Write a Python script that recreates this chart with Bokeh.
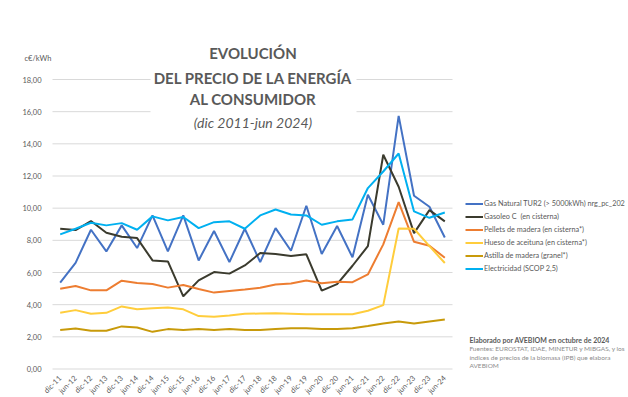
import math
from bokeh.plotting import figure
from bokeh.models import (FixedTicker, CustomJSTickFormatter, Label, Range1d, LinearAxis,
                          Legend, LegendItem)
from bokeh.embed import file_html
from bokeh.resources import INLINE

cats = ["dic-11", "jun-12", "dic-12", "jun-13", "dic-13", "jun-14", "dic-14", "jun-15",
        "dic-15", "jun-16", "dic-16", "jun-17", "dic-17", "jun-18", "dic-18", "jun-19",
        "dic-19", "jun-20", "dic-20", "jun-21", "dic-21", "jun-22", "dic-22", "jun-23",
        "dic-23", "jun-24"]

gas_natural = [5.37, 6.60, 8.66, 7.31, 8.93, 7.52, 9.55, 7.31, 9.55, 6.75, 8.58, 6.65, 8.72,
               6.65, 8.76, 7.35, 10.15, 7.15, 8.89, 6.94, 10.83, 8.97, 15.74, 10.77, 10.09, 8.18]
gasoleo_c = [8.72, 8.64, 9.20, 8.47, 8.22, 8.14, 6.75, 6.69, 4.52, 5.51, 6.03, 5.93, 6.44,
             7.21, 7.15, 7.02, 7.13, 4.87, 5.28, 6.42, 7.64, 13.32, 11.33, 8.45, 9.88, 9.18]
pellets = [4.99, 5.16, 4.89, 4.89, 5.49, 5.35, 5.28, 5.06, 5.22, 4.97, 4.75, 4.85, 4.94,
           5.05, 5.25, 5.32, 5.50, 5.33, 5.42, 5.40, 5.88, 7.75, 10.38, 7.91, 7.66, 6.92]
hueso = [3.50, 3.66, 3.44, 3.49, 3.89, 3.72, 3.78, 3.83, 3.71, 3.29, 3.25, 3.33, 3.43,
         3.45, 3.46, 3.44, 3.41, 3.41, 3.41, 3.41, 3.62, 3.97, 8.74, 8.72, 7.64, 6.59]
astilla = [2.42, 2.52, 2.38, 2.38, 2.65, 2.58, 2.31, 2.48, 2.42, 2.48, 2.42, 2.48, 2.43,
           2.42, 2.48, 2.54, 2.54, 2.48, 2.48, 2.54, 2.67, 2.83, 2.96, 2.83, 2.96, 3.08]
electricidad = [8.37, 8.72, 9.09, 8.93, 9.07, 8.66, 9.49, 9.24, 9.45, 8.76, 9.13, 9.18, 8.72,
                9.55, 9.92, 9.61, 9.55, 8.97, 9.18, 9.30, 11.25, 12.28, 13.40, 9.80, 9.40, 9.73]

series_names = ["Gas Natural TUR2 (> 5000kWh) nrg_pc_202", "Gasoleo C  (en cisterna)",
                "Pellets de madera (en cisterna*)", "Hueso de aceituna (en cisterna*)",
                "Astilla de madera (granel*)", "Electricidad (SCOP 2,5)"]
series_values = [gas_natural, gasoleo_c, pellets, hueso, astilla, electricidad]
series_colors = ["#4472C4", "#3B3B2E", "#ED7D31", "#FFCD3C", "#C89A0A", "#00B0F0"]

y_ticks = [0, 2, 4, 6, 8, 10, 12, 14, 16, 18]

FONT = "Lato"
GREY = "#595959"

# category slots: each category occupies one unit, marks sit at the slot centre
xpos = [i + 0.5 for i in range(len(cats))]
n = len(cats)

p = figure(width=628, height=397, x_range=Range1d(-3.38, 37.44), y_range=Range1d(-1.772, 22.912),
           output_backend="svg", toolbar_location=None, x_axis_type=None, y_axis_type=None,
           min_border=0)
p.outline_line_color = None
p.background_fill_color = "white"
p.xgrid.visible = False
p.ygrid.visible = False

# y axis at the left edge of the plotting area
yax = LinearAxis(fixed_location=0, ticker=FixedTicker(ticks=y_ticks),
                 formatter=CustomJSTickFormatter(code="return tick.toFixed(2).replace('.', ',');"))
yax.axis_line_color = None
yax.major_tick_line_color = None
yax.minor_tick_line_color = None
yax.major_label_standoff = 5
yax.major_label_text_font = FONT
yax.major_label_text_font_size = "7.5px"
yax.major_label_text_color = GREY
p.add_layout(yax, "left")

# x axis (categories) at y = 0
xax = LinearAxis(fixed_location=0, ticker=FixedTicker(ticks=xpos),
                 major_label_overrides={x: c for x, c in zip(xpos, cats)})
xax.axis_line_color = None
xax.major_tick_line_color = None
xax.minor_tick_line_color = None
xax.major_label_orientation = math.pi / 4
xax.major_label_standoff = 2
xax.major_label_text_font = FONT
xax.major_label_text_font_size = "7.5px"
xax.major_label_text_color = GREY
p.add_layout(xax, "below")

# horizontal gridlines over the category span (interrupted behind the title block)
gx0, gx1, gy = [], [], []
for t in y_ticks:
    if t >= 16:
        gx0 += [0, 19.76]
        gx1 += [6.37, n]
        gy += [t, t]
    else:
        gx0.append(0)
        gx1.append(n)
        gy.append(t)
p.segment(x0=gx0, x1=gx1, y0=gy, y1=gy, line_color="#D9D9D9", line_width=1)

items = []
for name, vals, col in zip(series_names, series_values, series_colors):
    r = p.line(xpos, vals, line_color=col, line_width=2)
    items.append(LegendItem(label=name, renderers=[r]))

lg = Legend(items=items, location=(465, 122))
lg.background_fill_alpha = 0
lg.border_line_color = None
lg.padding = 0
lg.margin = 0
lg.spacing = 0
lg.glyph_width = 18
lg.glyph_height = 13
lg.label_height = 13
lg.label_standoff = 1
lg.label_text_font = FONT
lg.label_text_font_size = "7.3px"
lg.label_text_color = GREY
p.add_layout(lg, "center")

title_lines = [("EVOLUCIÓN", 19.63, "bold", "15px"),
               ("DEL PRECIO DE LA ENERGÍA", 18.12, "bold", "15px"),
               ("AL CONSUMIDOR", 16.76, "bold", "15px"),
               ("(dic 2011-jun 2024)", 15.33, "italic", "14px")]
for txt, yy, style, size in title_lines:
    p.add_layout(Label(x=13.03, y=yy, text=txt, text_align="center", text_baseline="middle",
                       text_font=FONT, text_font_style=style, text_font_size=size,
                       text_color=GREY))

p.add_layout(Label(x=-1.82, y=19.31, text="c€/kWh", text_align="left", text_baseline="middle",
                   text_font=FONT, text_font_size="7.5px", text_color=GREY))

notes = [("Elaborado por AVEBIOM en octubre de 2024", 1.82, "bold", "7px", GREY),
         ("Fuentes: EUROSTAT, IDAE, MINETUR y MIBGAS, y los", 1.29, "normal", "6.5px", "#8C8C8C"),
         ("índices de precios de la biomasa (IPB) que elabora", 0.73, "normal", "6.5px", "#8C8C8C"),
         ("AVEBIOM", 0.22, "normal", "6.5px", "#8C8C8C")]
for txt, yy, style, size, col in notes:
    p.add_layout(Label(x=27.1, y=yy, text=txt, text_align="left", text_baseline="middle",
                       text_font=FONT, text_font_style=style, text_font_size=size,
                       text_color=col))

open("out.html", "w").write(file_html(p, INLINE))
